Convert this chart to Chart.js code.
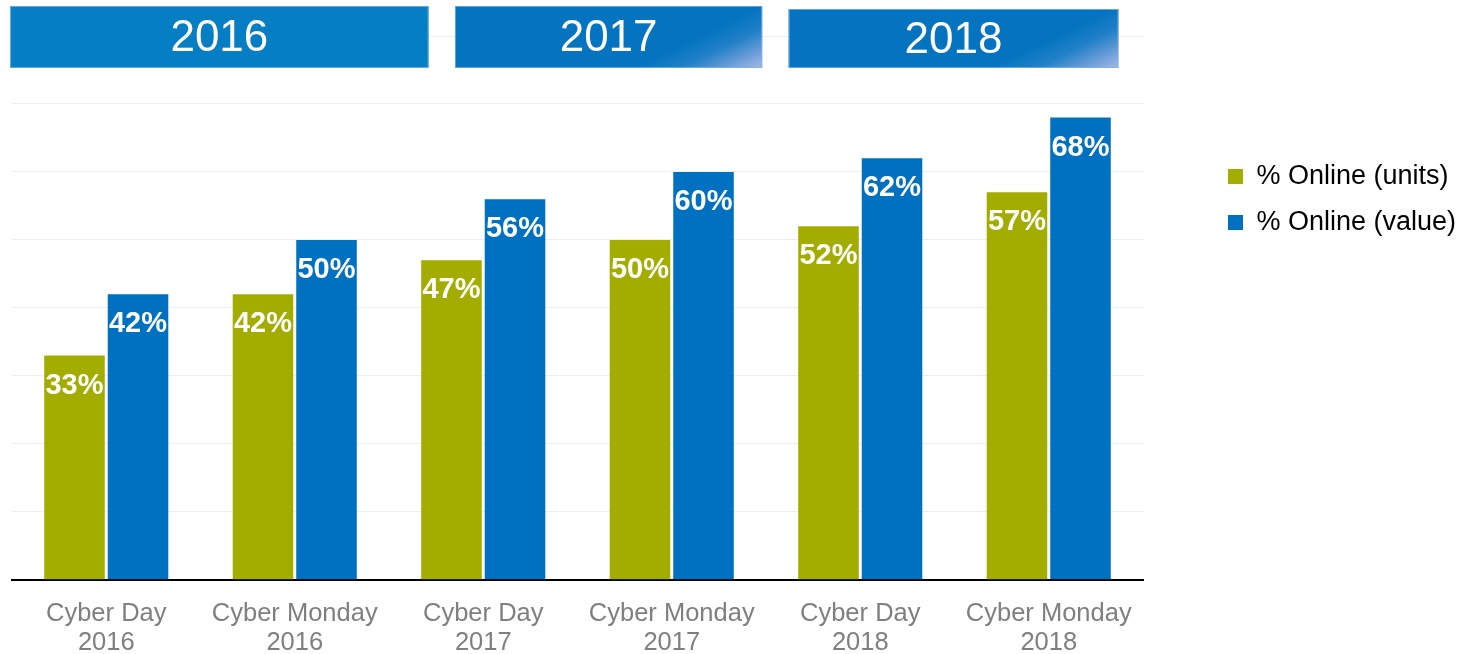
<!DOCTYPE html>
<html lang="en">
<head>
    <meta charset="UTF-8">
    <meta content="width=device-width, initial-scale=1.0" name="viewport">
    <title>Cyber Day / Cyber Monday - % Online</title>
    <script src="https://cdn.jsdelivr.net/npm/chart.js"></script>
    <style>
        body { margin: 0; background: #ffffff; }
        #chartContainer { width: 1463px; height: 654px; }
    </style>
</head>
<body>

<div id="chartContainer">
    <canvas id="barChartCanvas"></canvas>
</div>

<script type="text/javascript">
    // Values
    const categories = [
        ['Cyber Day', '2016'], ['Cyber Monday', '2016'],
        ['Cyber Day', '2017'], ['Cyber Monday', '2017'],
        ['Cyber Day', '2018'], ['Cyber Monday', '2018']
    ];
    const seriesNames = ['% Online (units)', '% Online (value)'];
    const onlineUnits = [33, 42, 47, 50, 52, 57];
    const onlineValue = [42, 50, 56, 60, 62, 68];
    const yearLabels = ['2016', '2017', '2018'];

    // Layout bits (not data)
    const fontFamily = '"Liberation Sans", Arial, sans-serif';
    const greenColor = '#A3AD00';
    const blueColor = '#0070C0';
    // header boxes, in category units along the x axis
    const headerSpans = [[-0.01, 2.21], [2.35, 3.98], [4.12, 5.87]];
    const headerTops = [6, 6, 9];
    const headerBottom = 68;
    const legendWidth = 320;
    const legendShiftX = 66;
    const legendShiftY = 108;

    // Year boxes on top of the chart
    const yearHeaders = {
        id: 'yearHeaders',
        afterDraw(chart) {
            const ctx = chart.ctx;
            const xs = chart.scales.x;
            const catW = (xs.right - xs.left) / categories.length;
            yearLabels.forEach((label, i) => {
                const x0 = xs.left + headerSpans[i][0] * catW;
                const x1 = xs.left + headerSpans[i][1] * catW;
                const y0 = headerTops[i];
                const y1 = headerBottom;
                ctx.save();
                if (i === 0) {
                    ctx.fillStyle = '#057EC4';
                } else {
                    // soft sheen in the lower right corner
                    const g = ctx.createLinearGradient(x1 - 24, y1 - 50, x1, y1);
                    g.addColorStop(0, '#0474C1');
                    g.addColorStop(0.35, '#2080C7');
                    g.addColorStop(0.7, '#6A9DD8');
                    g.addColorStop(1, '#A6BAE6');
                    ctx.fillStyle = g;
                }
                ctx.fillRect(x0, y0, x1 - x0, y1 - y0);
                ctx.strokeStyle = 'rgba(120,180,230,0.8)';
                ctx.lineWidth = 1;
                ctx.strokeRect(x0 + 0.5, y0 + 0.5, x1 - x0 - 1, y1 - y0 - 1);
                ctx.fillStyle = '#ffffff';
                ctx.font = '44px ' + fontFamily;
                ctx.textAlign = 'center';
                ctx.textBaseline = 'middle';
                ctx.fillText(label, (x0 + x1) / 2, (y0 + y1) / 2 + 2);
                ctx.restore();
            });
        }
    };

    // White percentage labels inside the top of each bar
    const barLabels = {
        id: 'barLabels',
        afterDatasetsDraw(chart) {
            const ctx = chart.ctx;
            ctx.save();
            ctx.fillStyle = '#ffffff';
            ctx.font = 'bold 29px ' + fontFamily;
            ctx.textAlign = 'center';
            ctx.textBaseline = 'middle';
            chart.data.datasets.forEach((ds, i) => {
                chart.getDatasetMeta(i).data.forEach((bar, j) => {
                    ctx.fillText(ds.data[j] + '%', bar.x, bar.y + 30);
                });
            });
            ctx.restore();
        }
    };

    // Push the legend away from the plot like in the original
    const legendOffset = {
        id: 'legendOffset',
        beforeInit(chart) {
            const lg = chart.legend;
            if (!lg) return;
            const fit = lg.fit;
            lg.fit = function () {
                fit.call(this);
                this.width = legendWidth;
            };
            const draw = lg.draw;
            lg.draw = function () {
                this.ctx.save();
                this.ctx.translate(legendShiftX, legendShiftY);
                draw.call(this);
                this.ctx.restore();
            };
        }
    };

    const ctx = document.getElementById('barChartCanvas').getContext('2d');
    new Chart(ctx, {
        type: 'bar',
        data: {
            labels: categories,
            datasets: [
                { label: seriesNames[0], data: onlineUnits, backgroundColor: greenColor },
                { label: seriesNames[1], data: onlineValue, backgroundColor: blueColor }
            ]
        },
        options: {
            responsive: true,
            maintainAspectRatio: false,
            animation: false,
            categoryPercentage: 0.674,
            barPercentage: 0.953,
            layout: { padding: { left: 12, top: 36, right: 0, bottom: -24 } },
            scales: {
                x: {
                    grid: { display: false, drawTicks: false },
                    border: { display: true, color: '#000000', width: 2 },
                    ticks: {
                        color: '#7F7F7F',
                        font: { family: fontFamily, size: 25.5, lineHeight: 1.14 },
                        padding: 20,
                        maxRotation: 0
                    }
                },
                y: {
                    min: 0,
                    max: 80,
                    ticks: { display: false, stepSize: 10 },
                    border: { display: false },
                    grid: { color: '#EEEEEE', lineWidth: 1, drawTicks: false }
                }
            },
            plugins: {
                tooltip: { enabled: false },
                legend: {
                    position: 'right',
                    align: 'start',
                    labels: {
                        color: '#000000',
                        font: { family: fontFamily, size: 27 },
                        boxWidth: 15,
                        boxHeight: 15,
                        padding: 19
                    }
                }
            }
        },
        plugins: [yearHeaders, barLabels, legendOffset]
    });
</script>

</body>
</html>
